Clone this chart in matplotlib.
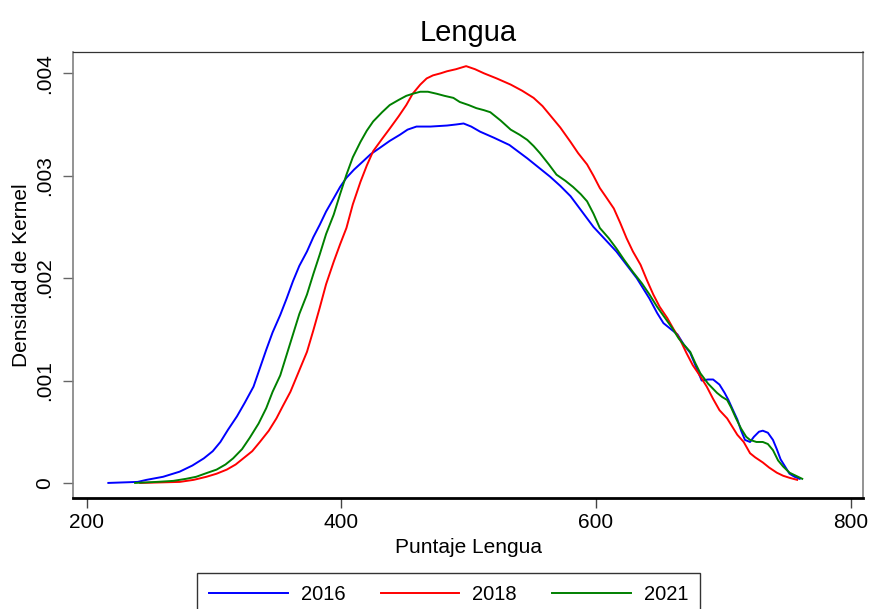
import matplotlib
matplotlib.use("Agg")
import matplotlib.pyplot as plt

plt.rcParams['font.family'] = ['Liberation Sans', 'DejaVu Sans']

# Kernel density of the Lengua score, by year
x_2016 = [217, 240, 247, 260, 273, 283, 292, 299, 305, 311, 318, 324, 331, 336,
          341, 346, 352, 357, 362, 367, 373, 378, 383, 388, 394, 399, 404, 410,
          417, 423, 430, 438, 446, 452, 459, 470, 483, 490, 496, 502, 509, 520,
          532, 546, 555, 564, 572, 580, 589, 598, 607, 616, 624, 632, 637, 642,
          648, 653, 657, 661, 664, 669, 674, 679, 683, 688, 692, 697, 701, 704,
          708, 711, 714, 717, 721, 724, 728, 731, 735, 739, 742, 745, 749, 752,
          756, 760]
y_2016 = [0.0, 0.00001, 0.00003, 0.00006, 0.00011, 0.00017, 0.00024, 0.00031,
          0.00040, 0.00052, 0.00065, 0.00078, 0.00094, 0.00112, 0.00130, 0.00147,
          0.00164, 0.00180, 0.00197, 0.00212, 0.00226, 0.00240, 0.00252, 0.00265,
          0.00278, 0.00289, 0.00298, 0.00306, 0.00314, 0.00321, 0.00327, 0.00334,
          0.00340, 0.00345, 0.00348, 0.00348, 0.00349, 0.00350, 0.00351, 0.00348,
          0.00343, 0.00337, 0.00330, 0.00317, 0.00308, 0.00299, 0.00290, 0.00280,
          0.00265, 0.00250, 0.00238, 0.00226, 0.00213, 0.00200, 0.00190, 0.00180,
          0.00166, 0.00156, 0.00152, 0.00148, 0.00145, 0.00135, 0.00127, 0.00112,
          0.00100, 0.00101, 0.00101, 0.00096, 0.00088, 0.00081, 0.00070, 0.00062,
          0.00051, 0.00042, 0.00040, 0.00045, 0.00050, 0.00051, 0.00049, 0.00042,
          0.00033, 0.00023, 0.00015, 0.00009, 0.00006, 0.00004]

x_2018 = [242, 258, 273, 284, 294, 302, 310, 317, 323, 330, 336, 343, 349, 354,
          360, 366, 373, 378, 383, 388, 394, 399, 404, 409, 415, 420, 425, 432,
          438, 445, 451, 456, 462, 467, 472, 478, 483, 490, 498, 505, 512, 522,
          533, 542, 551, 558, 564, 572, 580, 586, 593, 598, 603, 608, 614, 619,
          624, 629, 635, 640, 645, 650, 656, 661, 666, 671, 676, 682, 687, 692,
          697, 703, 708, 711, 716, 721, 725, 731, 736, 742, 747, 752, 758]
y_2018 = [0.0, 0.000005, 0.00001, 0.00003, 0.00006, 0.00009, 0.00013, 0.00018,
          0.00024, 0.00031, 0.00040, 0.00051, 0.00063, 0.00075, 0.00089, 0.00107,
          0.00128, 0.00149, 0.00171, 0.00194, 0.00216, 0.00233, 0.00249, 0.00272,
          0.00294, 0.00310, 0.00324, 0.00336, 0.00346, 0.00358, 0.00369, 0.00380,
          0.00389, 0.00395, 0.00398, 0.00400, 0.00402, 0.00404, 0.00407, 0.00404,
          0.00400, 0.00395, 0.00389, 0.00383, 0.00376, 0.00368, 0.00359, 0.00347,
          0.00333, 0.00322, 0.00311, 0.00300, 0.00288, 0.00279, 0.00268, 0.00254,
          0.00239, 0.00226, 0.00213, 0.00198, 0.00184, 0.00172, 0.00161, 0.00150,
          0.00140, 0.00127, 0.00115, 0.00104, 0.00094, 0.00082, 0.00071, 0.00063,
          0.00053, 0.00047, 0.00040, 0.00029, 0.00025, 0.00020, 0.00015, 0.00010,
          0.00007, 0.00005, 0.00003]

x_2021 = [238, 255, 268, 278, 286, 295, 302, 309, 315, 322, 328, 335, 341, 346,
          352, 357, 362, 367, 373, 378, 383, 388, 394, 399, 404, 409, 415, 420,
          425, 432, 438, 445, 451, 456, 462, 468, 475, 481, 488, 493, 500, 506,
          512, 517, 525, 533, 540, 546, 551, 556, 563, 569, 576, 582, 588, 593,
          598, 603, 610, 616, 622, 629, 636, 642, 648, 656, 660, 665, 669, 674,
          678, 682, 688, 695, 699, 703, 706, 710, 714, 718, 721, 726, 731, 735,
          739, 743, 747, 752, 757, 762]
y_2021 = [0.0, 0.00001, 0.00002, 0.00004, 0.00006, 0.00010, 0.00013, 0.00018,
          0.00024, 0.00033, 0.00044, 0.00058, 0.00073, 0.00089, 0.00105, 0.00125,
          0.00145, 0.00165, 0.00184, 0.00204, 0.00223, 0.00243, 0.00262, 0.00282,
          0.00301, 0.00318, 0.00333, 0.00344, 0.00353, 0.00362, 0.00369, 0.00374,
          0.00378, 0.00380, 0.00382, 0.00382, 0.00380, 0.00378, 0.00376, 0.00372,
          0.00369, 0.00366, 0.00364, 0.00362, 0.00354, 0.00345, 0.00340, 0.00335,
          0.00329, 0.00322, 0.00311, 0.00301, 0.00295, 0.00289, 0.00282, 0.00275,
          0.00263, 0.00249, 0.00239, 0.00229, 0.00218, 0.00206, 0.00195, 0.00184,
          0.00172, 0.00158, 0.00151, 0.00141, 0.00135, 0.00128, 0.00117, 0.00107,
          0.00097, 0.00088, 0.00084, 0.00081, 0.00074, 0.00063, 0.00053, 0.00045,
          0.00042, 0.00040, 0.00040, 0.00038, 0.00032, 0.00022, 0.00016, 0.00010,
          0.00007, 0.00004]

years = ['2016', '2018', '2021']
colors = ['#0000ff', '#ff0000', '#008000']

x_ticks = [200, 400, 600, 800]
y_ticks = [0, 0.001, 0.002, 0.003, 0.004]
y_tick_labels = ['0', '.001', '.002', '.003', '.004']

fig = plt.figure(figsize=(8.71, 6.09), dpi=100)
ax = fig.add_axes([0.0842, 0.1828, 0.9066, 0.7318])

series = [(x_2016, y_2016), (x_2018, y_2018), (x_2021, y_2021)]
handles = []
for (xs, ys), color, year in zip(series, colors, years):
    line, = ax.plot(xs, ys, color=color, lw=1.4, label=year)
    handles.append(line)

ax.set_xlim(189.5, 809.7)
ax.set_ylim(-0.000144, 0.004208)

ax.set_xticks(x_ticks)
ax.set_xticklabels([str(t) for t in x_ticks], fontsize=15)
ax.set_yticks(y_ticks)
ax.set_yticklabels(y_tick_labels, fontsize=15, rotation=90, va='center')

ax.tick_params(axis='x', length=7, width=1, color='#444444', pad=4)
ax.tick_params(axis='y', length=7, width=1, color='#666666', pad=7)

ax.spines['left'].set_color('#808080')
ax.spines['left'].set_linewidth(1.2)
ax.spines['right'].set_color('#808080')
ax.spines['right'].set_linewidth(1.2)
ax.spines['top'].set_color('#333333')
ax.spines['top'].set_linewidth(0.9)
ax.spines['bottom'].set_color('black')
ax.spines['bottom'].set_linewidth(2)

ax.set_title('Lengua', fontsize=21, pad=8)
ax.set_xlabel('Puntaje Lengua', fontsize=15, labelpad=4)
ax.set_ylabel('Densidad de Kernel', fontsize=15, labelpad=3)

# legend box sits at the bottom edge and runs off the figure
leg = fig.legend(handles, years, loc='upper center',
                 bbox_to_anchor=(0.5152, 0.0596), ncol=3, fontsize=14.5,
                 frameon=True, fancybox=False, edgecolor='black',
                 handlelength=3.9, handletextpad=0.65, columnspacing=1.75,
                 borderpad=0.6, borderaxespad=0)
leg.get_frame().set_linewidth(1.0)

fig.savefig('out.png', dpi=100)
